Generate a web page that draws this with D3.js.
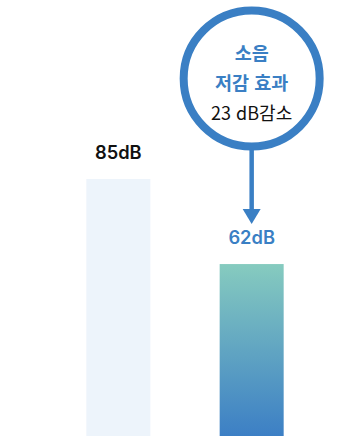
<!DOCTYPE html>
<html lang="ko">
<head>
<meta charset="utf-8">
<script src="https://cdn.jsdelivr.net/npm/d3@7/dist/d3.min.js"></script>
<style>
  html, body { margin: 0; padding: 0; background: #fff; }
  svg { display: block; font-family: "Noto Sans CJK KR", "Noto Sans", sans-serif; }
</style>
</head>
<body>
<svg id="chart" width="338" height="436"></svg>
<script>
// Noise level before / after treatment
const categories = ["일반", "저감 적용"];
const noiseDb = [85, 62];
const valueLabels = ["85dB", "62dB"];
const calloutTitle = ["소음", "저감 효과"];
const calloutNote = "23 dB감소";

const W = 338, H = 436;
const svg = d3.select("#chart");

const x = d3.scaleBand().domain(categories).range([17, 353]).padding(0.52);
const y = d3.scaleLinear().domain([15.5, 85]).range([H, 179]);

const defs = svg.append("defs");
const grad = defs.append("linearGradient")
  .attr("id", "barGrad").attr("x1", 0).attr("y1", 0).attr("x2", 0).attr("y2", 1);
grad.append("stop").attr("offset", "0%").attr("stop-color", "#86cbbf");
grad.append("stop").attr("offset", "100%").attr("stop-color", "#3c7fc5");

const fills = ["#edf4fb", "url(#barGrad)"];
const labelColors = ["#111111", "#3a7fc4"];

svg.selectAll("rect.bar")
  .data(categories)
  .join("rect")
  .attr("class", "bar")
  .attr("x", d => x(d))
  .attr("width", x.bandwidth())
  .attr("y", (d, i) => y(noiseDb[i]))
  .attr("height", (d, i) => H - y(noiseDb[i]))
  .attr("fill", (d, i) => fills[i]);

svg.selectAll("text.val")
  .data(categories)
  .join("text")
  .attr("class", "val")
  .attr("x", d => x(d) + x.bandwidth() / 2)
  .attr("y", (d, i) => y(noiseDb[i]) - 20.5)
  .attr("text-anchor", "middle")
  .attr("font-family", "Inter, 'Noto Sans CJK KR', sans-serif")
  .attr("font-size", 18.3)
  .attr("font-weight", 600)
  .attr("fill", (d, i) => labelColors[i])
  .text((d, i) => valueLabels[i]);

// Callout circle over the treated bar
const cx = x(categories[1]) + x.bandwidth() / 2;
const cy = 78.5;
const r = 68;
const blue = "#3a7fc4";

svg.append("circle")
  .attr("cx", cx).attr("cy", cy).attr("r", r)
  .attr("fill", "#fff")
  .attr("stroke", blue)
  .attr("stroke-width", 8);

const arrowTip = y(noiseDb[1]) - 40;
svg.append("line")
  .attr("x1", cx).attr("x2", cx)
  .attr("y1", cy + r + 3).attr("y2", arrowTip - 12)
  .attr("stroke", blue).attr("stroke-width", 4.5);
svg.append("path")
  .attr("d", `M${cx - 9},${arrowTip - 15} L${cx + 9},${arrowTip - 15} L${cx},${arrowTip} Z`)
  .attr("fill", blue);

svg.selectAll("text.title")
  .data(calloutTitle)
  .join("text")
  .attr("class", "title")
  .attr("x", cx)
  .attr("y", (d, i) => 60 + i * 30)
  .attr("text-anchor", "middle")
  .attr("font-size", 18.5)
  .attr("font-weight", 700)
  .attr("fill", blue)
  .text(d => d);

svg.append("text")
  .attr("x", cx)
  .attr("y", 119.5)
  .attr("text-anchor", "middle")
  .attr("font-size", 18)
  .attr("font-weight", 400)
  .attr("fill", "#111")
  .text(calloutNote);
</script>
</body>
</html>
